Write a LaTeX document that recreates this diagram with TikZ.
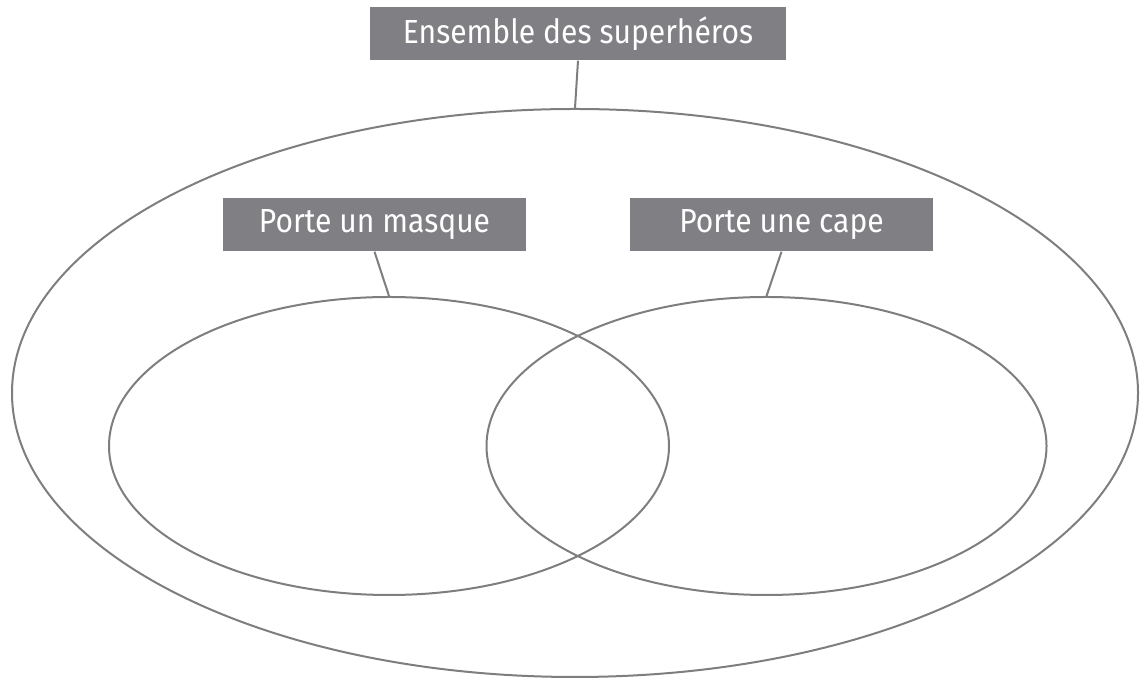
\documentclass[tikz,border=0pt]{standalone}
\usepackage{fontspec}
\setmainfont{Fira Sans}[FakeStretch=0.9]
\usetikzlibrary{shapes.geometric}
\definecolor{boxgray}{HTML}{808084}
\definecolor{linegray}{HTML}{7E7E81}

\begin{document}
\begin{tikzpicture}[x=0.1mm,y=-0.1mm,
    every node/.style={inner sep=0pt},
    label/.style={fill=boxgray,text=white,minimum height=5.3mm,font=\fontsize{9.5}{11}\selectfont},
    set/.style={draw=linegray,ellipse,line width=0.2mm}]

    \useasboundingbox (0,0) rectangle (1140,679);

    \node (lA) [label,minimum width=41.6mm] at (578,33.5) {Ensemble des superhéros};
    \node (lB) [label,minimum width=30.3mm] at (374.5,224.5) {Porte un masque};
    \node (lC) [label,minimum width=30.3mm] at (781.5,224.5) {Porte une cape};

    \node (eA) [set,minimum width=112.6mm,minimum height=56.8mm] at (575,393) {};
    \node (eB) [set,minimum width=56mm,minimum height=29.8mm] at (389,446) {};
    \node (eC) [set,minimum width=56mm,minimum height=29.8mm] at (766.5,446) {};

    \draw[linegray,line width=0.2mm](lA.south)--(eA.north);
    \draw[linegray,line width=0.2mm](lB.south)--(eB.north);
    \draw[linegray,line width=0.2mm](lC.south)--(eC.north);
  \end{tikzpicture}
\end{document}
